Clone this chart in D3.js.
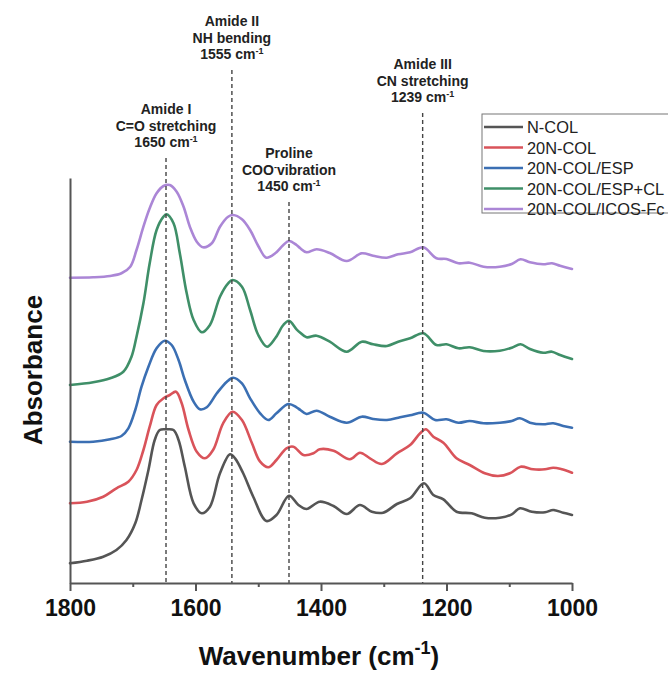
<!DOCTYPE html>
<html>
<head>
<meta charset="utf-8">
<script src="https://cdn.jsdelivr.net/npm/d3@7"></script>
<style>
  html, body { margin: 0; padding: 0; background: #fff; }
  svg { display: block; }
  text { font-family: "Liberation Sans", Arial, sans-serif; }
</style>
</head>
<body>
<svg id="chart" width="668" height="673"></svg>
<script>
// ---- Data: [wavenumber (cm-1), absorbance (offset, a.u.)] ----
const seriesNames = ["N-COL", "20N-COL", "20N-COL/ESP", "20N-COL/ESP+CL", "20N-COL/ICOS-Fc"];
const seriesColors = ["#555555", "#d9535a", "#3b6fb3", "#3f8f68", "#ab86d6"];

const nCol = [[1800,0.197],[1773,0.223],[1747,0.263],[1726,0.33],[1710,0.43],[1696,0.597],[1686,0.83],[1675,1.13],[1665,1.43],[1657,1.53],[1646,1.537],[1635,1.53],[1627,1.43],[1617,1.163],[1603,0.797],[1590,0.697],[1577,0.763],[1561,1.097],[1545,1.287],[1537,1.247],[1524,1.097],[1508,0.863],[1487,0.62],[1471,0.68],[1451,0.873],[1436,0.78],[1423,0.74],[1402,0.813],[1380,0.77],[1359,0.69],[1338,0.78],[1319,0.713],[1301,0.703],[1279,0.79],[1258,0.847],[1236,0.997],[1221,0.88],[1205,0.837],[1184,0.713],[1160,0.697],[1139,0.653],[1115,0.653],[1096,0.687],[1083,0.747],[1064,0.713],[1043,0.707],[1030,0.73],[1014,0.703],[1000,0.68]];

const col20 = [[1800,0.797],[1773,0.813],[1747,0.863],[1726,0.947],[1707,1.013],[1694,1.13],[1683,1.33],[1673,1.563],[1662,1.78],[1651,1.847],[1641,1.88],[1631,1.913],[1622,1.797],[1611,1.53],[1598,1.313],[1585,1.247],[1572,1.33],[1556,1.597],[1541,1.713],[1526,1.63],[1510,1.397],[1497,1.213],[1484,1.157],[1471,1.23],[1455,1.347],[1444,1.363],[1428,1.28],[1412,1.297],[1402,1.337],[1380,1.323],[1354,1.237],[1338,1.303],[1322,1.247],[1303,1.19],[1279,1.297],[1258,1.38],[1242,1.497],[1233,1.537],[1221,1.463],[1205,1.403],[1184,1.247],[1163,1.18],[1139,1.097],[1118,1.07],[1099,1.097],[1082,1.163],[1062,1.137],[1043,1.137],[1030,1.153],[1016,1.137],[1000,1.103]];

const colEsp = [[1800,1.413],[1763,1.413],[1736,1.437],[1718,1.47],[1707,1.547],[1696,1.73],[1686,1.963],[1675,2.163],[1662,2.347],[1649,2.423],[1638,2.38],[1627,2.23],[1617,2.03],[1603,1.813],[1593,1.737],[1582,1.757],[1566,1.897],[1550,2.013],[1540,2.053],[1526,1.997],[1513,1.847],[1497,1.697],[1484,1.63],[1471,1.697],[1452,1.79],[1439,1.757],[1433,1.73],[1423,1.69],[1407,1.723],[1386,1.663],[1359,1.603],[1335,1.663],[1317,1.64],[1295,1.63],[1274,1.657],[1258,1.677],[1237,1.703],[1218,1.63],[1200,1.637],[1181,1.603],[1163,1.62],[1141,1.597],[1115,1.603],[1096,1.62],[1083,1.647],[1067,1.603],[1046,1.587],[1030,1.597],[1014,1.57],[1000,1.553]];

const colEspCl = [[1800,1.98],[1763,2.007],[1736,2.047],[1715,2.113],[1702,2.263],[1694,2.463],[1683,2.797],[1673,3.197],[1662,3.53],[1651,3.663],[1646,3.687],[1635,3.597],[1625,3.297],[1614,2.897],[1603,2.63],[1590,2.507],[1577,2.58],[1561,2.863],[1548,2.997],[1541,3.03],[1526,2.963],[1513,2.73],[1500,2.48],[1486,2.363],[1473,2.447],[1460,2.58],[1451,2.623],[1439,2.537],[1433,2.503],[1423,2.457],[1407,2.473],[1386,2.413],[1359,2.313],[1335,2.413],[1317,2.387],[1295,2.37],[1277,2.413],[1258,2.447],[1237,2.497],[1216,2.38],[1200,2.387],[1181,2.347],[1163,2.357],[1141,2.32],[1115,2.323],[1096,2.353],[1082,2.387],[1067,2.34],[1046,2.303],[1032,2.313],[1019,2.28],[1000,2.24]];

const colIcos = [[1800,3.053],[1763,3.057],[1736,3.07],[1718,3.097],[1704,3.163],[1694,3.33],[1683,3.563],[1673,3.747],[1662,3.897],[1651,3.97],[1641,3.98],[1630,3.913],[1619,3.763],[1609,3.563],[1598,3.413],[1588,3.357],[1574,3.397],[1561,3.563],[1548,3.663],[1540,3.68],[1526,3.637],[1513,3.53],[1500,3.37],[1487,3.253],[1473,3.297],[1460,3.38],[1451,3.42],[1439,3.38],[1433,3.347],[1423,3.307],[1407,3.337],[1386,3.30],[1359,3.22],[1335,3.297],[1317,3.273],[1295,3.253],[1277,3.287],[1258,3.307],[1237,3.357],[1216,3.247],[1200,3.24],[1181,3.197],[1163,3.203],[1141,3.163],[1115,3.163],[1096,3.19],[1082,3.237],[1067,3.207],[1046,3.187],[1032,3.197],[1019,3.173],[1000,3.14]];

const seriesData = [nCol, col20, colEsp, colEspCl, colIcos];

const majorTicks = [1800, 1600, 1400, 1200, 1000];
const minorTicks = [1700, 1500, 1300, 1100];

// Band markers: drawn position and label lines (segments; "^" prefix = superscript)
const bandPositions = [1647, 1542, 1451, 1238];
const bandLabels = [
  [["Amide I"], ["C=O stretching"], ["1650 cm", "^-1"]],
  [["Amide II"], ["NH bending"], ["1555 cm", "^-1"]],
  [["Proline"], ["COO", "^-", "vibration"], ["1450 cm", "^-1"]],
  [["Amide III"], ["CN stretching"], ["1239 cm", "^-1"]]
];
// layout: y of first label line centre per band
const bandLabelTop = [109, 21, 153, 64];

// ---- Layout ----
const svg = d3.select("#chart");
const x = d3.scaleLinear().domain([1800, 1000]).range([70, 572]);
const y = d3.scaleLinear().domain([0, 4.05]).range([583, 178]);
const axisColor = "#555";

// Curves
const line = d3.line()
  .x(d => x(d[0]))
  .y(d => y(d[1]))
  .curve(d3.curveCatmullRom.alpha(0.5));

svg.append("g").selectAll("path")
  .data(seriesData)
  .join("path")
  .attr("d", d => line(d))
  .attr("fill", "none")
  .attr("stroke", (d, i) => seriesColors[i])
  .attr("stroke-width", 2.6)
  .attr("stroke-linejoin", "round")
  .attr("stroke-linecap", "round");

// Band dashed lines + labels
const lineGap = 16.5;
const supShift = 5;
bandPositions.forEach((w, i) => {
  const cx = x(w);
  const lines = bandLabels[i];
  const top = bandLabelTop[i];
  const dashTop = top + (lines.length - 1) * lineGap + 16;
  svg.append("line")
    .attr("x1", cx).attr("x2", cx)
    .attr("y1", dashTop).attr("y2", y(0))
    .attr("stroke", "#444")
    .attr("stroke-width", 1.4)
    .attr("stroke-dasharray", "4,3");
  lines.forEach((parts, j) => {
    const t = svg.append("text")
      .attr("x", cx)
      .attr("y", top + j * lineGap + 5)
      .attr("text-anchor", "middle")
      .attr("font-size", 14)
      .attr("font-weight", "bold")
      .attr("fill", "#222");
    let raised = false;
    parts.forEach(p => {
      const isSup = p.startsWith("^");
      const ts = t.append("tspan").text(isSup ? p.slice(1) : p);
      if (isSup) {
        ts.attr("font-size", 9).attr("dy", -supShift);
        raised = true;
      } else if (raised) {
        ts.attr("dy", supShift);
        raised = false;
      }
    });
  });
});

// X axis
const xAxis = d3.axisBottom(x)
  .tickValues(majorTicks)
  .tickSize(8)
  .tickSizeOuter(0)
  .tickFormat(d3.format("d"))
  .tickPadding(9);
const gx = svg.append("g")
  .attr("transform", `translate(0,${y(0)})`)
  .call(xAxis);
gx.select(".domain").attr("stroke", axisColor).attr("stroke-width", 2);
gx.selectAll(".tick line").attr("stroke", axisColor).attr("stroke-width", 2);
gx.selectAll(".tick text")
  .attr("font-size", 23)
  .attr("font-weight", "bold")
  .attr("fill", "#111")
  .attr("font-family", "'Liberation Sans', Arial, sans-serif");

const xMinor = d3.axisBottom(x)
  .tickValues(minorTicks)
  .tickSize(4)
  .tickSizeOuter(0)
  .tickFormat("");
const gm = svg.append("g")
  .attr("transform", `translate(0,${y(0)})`)
  .call(xMinor);
gm.select(".domain").remove();
gm.selectAll(".tick line").attr("stroke", axisColor).attr("stroke-width", 2);

// Y axis (no ticks)
const yAxis = d3.axisLeft(y).tickValues([]).tickSizeOuter(0);
const gy = svg.append("g")
  .attr("transform", `translate(${x(1800)},0)`)
  .call(yAxis);
gy.select(".domain").attr("stroke", axisColor).attr("stroke-width", 2);

// Axis titles
const xt = svg.append("text")
  .attr("x", 319)
  .attr("y", 665)
  .attr("text-anchor", "middle")
  .attr("font-size", 26)
  .attr("font-weight", "bold")
  .attr("fill", "#111");
xt.append("tspan").text("Wavenumber (cm");
xt.append("tspan").text("-1").attr("font-size", 18).attr("dy", -11);
xt.append("tspan").text(")").attr("dy", 11);

svg.append("text")
  .attr("transform", "translate(42,370) rotate(-90)")
  .attr("text-anchor", "middle")
  .attr("font-size", 26)
  .attr("font-weight", "bold")
  .attr("fill", "#111")
  .text("Absorbance");

// Legend
const legend = svg.append("g");
legend.append("rect")
  .attr("x", 482).attr("y", 114)
  .attr("width", 200).attr("height", 99)
  .attr("fill", "#fff")
  .attr("stroke", "#777")
  .attr("stroke-width", 1);
const legItems = legend.selectAll("g.item")
  .data(seriesNames)
  .join("g")
  .attr("class", "item")
  .attr("transform", (d, i) => `translate(0,${127 + i * 20.5})`);
legItems.append("line")
  .attr("x1", 484).attr("x2", 523)
  .attr("y1", 0).attr("y2", 0)
  .attr("stroke", (d, i) => seriesColors[i])
  .attr("stroke-width", 2.6);
legItems.append("text")
  .attr("x", 527)
  .attr("y", 6)
  .attr("font-size", 16.4)
  .attr("fill", "#222")
  .text(d => d);
</script>
</body>
</html>
